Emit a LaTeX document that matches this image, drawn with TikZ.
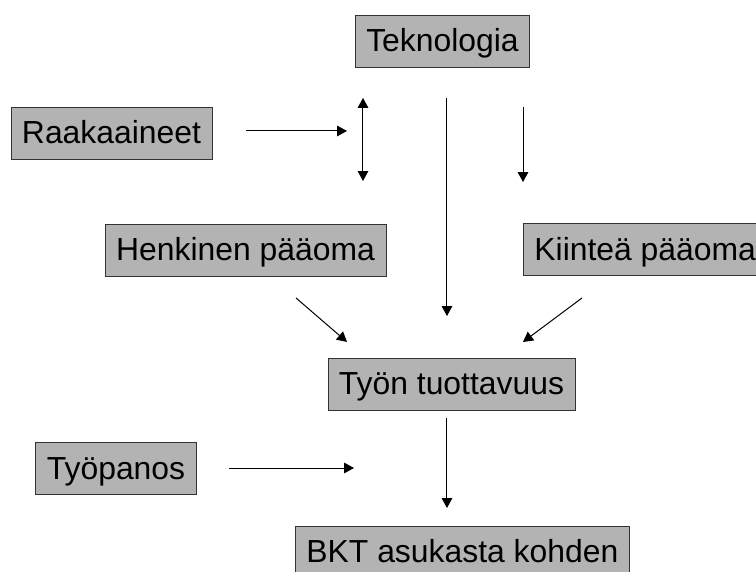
\documentclass[tikz,border=0pt]{standalone}
\usepackage{fontspec}
\setmainfont{Liberation Sans}
\usepackage{tikz}
\usetikzlibrary{arrows.meta, positioning}
\definecolor{boxgray}{RGB}{179,179,179}
\definecolor{boxedge}{RGB}{51,51,51}

\begin{document}
\begin{tikzpicture}[
    factor/.style={draw=boxedge, line width=0.6pt, fill=boxgray, inner xsep=8.3pt, inner ysep=0pt, minimum height=1.376cm, text height=20pt, text depth=3.5pt, font=\fontsize{24}{28}\selectfont},
    flow/.style={-{Triangle[length=7.5pt, width=8pt]}, line width=0.75pt},
    twoway/.style={{Triangle[length=7.5pt, width=8pt]}-{Triangle[length=7.5pt, width=8pt]}, line width=0.75pt}
]
    \useasboundingbox (0,0) rectangle (20,15.132);

    % Factors
    \node[factor] (tekno) at (11.706,14.048) {Teknologia};
    \node[factor] (raaka) at (2.950,11.614) {Raakaaineet};
    \node[factor] (henki) at (6.495,8.519) {Henkinen pääoma};
    \node[factor, anchor=west] (kiintea) at (13.836,8.532) {Kiinteä pääoma};
    \node[factor] (tuottavuus) at (11.944,4.974) {Työn tuottavuus};
    \node[factor] (panos) at (3.069,2.738) {Työpanos};
    \node[factor, anchor=west] (bkt) at (7.804,0.529) {BKT asukasta kohden};

    % Arrow ends
    \coordinate (raakaA) at (6.508,11.667);
    \coordinate (raakaB) at (9.180,11.667);
    \coordinate (vaihtoA) at (9.603,12.540);
    \coordinate (vaihtoB) at (9.603,10.344);
    \coordinate (teknoA) at (11.825,12.540);
    \coordinate (teknoB) at (11.825,6.772);
    \coordinate (oikeaA) at (13.836,12.302);
    \coordinate (oikeaB) at (13.836,10.317);
    \coordinate (henkiA) at (7.831,7.249);
    \coordinate (henkiB) at (9.180,6.085);
    \coordinate (kiinteaA) at (15.397,7.249);
    \coordinate (kiinteaB) at (13.836,6.085);
    \coordinate (panosA) at (6.058,2.751);
    \coordinate (panosB) at (9.365,2.751);
    \coordinate (bktA) at (11.825,4.074);
    \coordinate (bktB) at (11.825,1.693);

    % Arrows
    \draw[flow] (raakaA) -- (raakaB);
    \draw[twoway] (vaihtoA) -- (vaihtoB);
    \draw[flow] (teknoA) -- (teknoB);
    \draw[flow] (oikeaA) -- (oikeaB);
    \draw[flow] (henkiA) -- (henkiB);
    \draw[flow] (kiinteaA) -- (kiinteaB);
    \draw[flow] (panosA) -- (panosB);
    \draw[flow] (bktA) -- (bktB);
\end{tikzpicture}
\end{document}
